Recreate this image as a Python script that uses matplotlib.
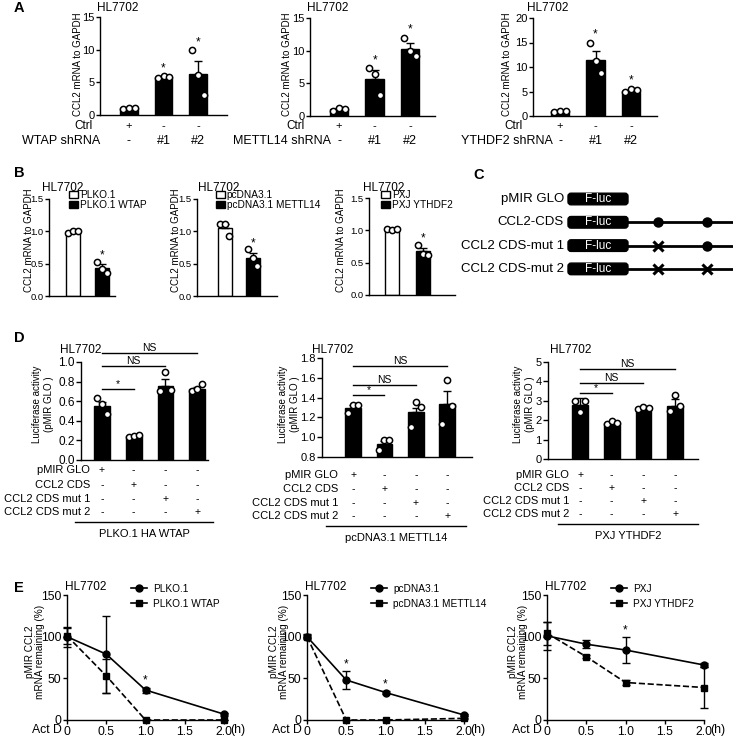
import numpy as np
import matplotlib
matplotlib.use("Agg")
import matplotlib.pyplot as plt
import matplotlib.transforms as mtransforms
from matplotlib.patches import Patch, FancyBboxPatch
from matplotlib.lines import Line2D

plt.rcParams["font.family"] = ["Liberation Sans", "DejaVu Sans"]
plt.rcParams["font.size"] = 7.5

# ---------------- data ----------------
# A: CCL2 mRNA after shRNA knockdown
a_groups = ["WTAP shRNA", "METTL14 shRNA", "YTHDF2 shRNA"]
a_ctrl_signs = ["+", "-", "-"]
a_sh_signs = ["-", "#1", "#2"]
a_means = [[1.0, 5.8, 6.3], [1.0, 5.7, 10.3], [1.0, 11.5, 5.2]]
a_sems = [[0.1, 0.1, 2.0], [0.2, 1.3, 0.8], [0.1, 1.8, 0.2]]
a_points = [
    [[0.9, 1.0, 1.0], [5.7, 5.9, 5.8], [9.9, 6.1, 3.0]],
    [[0.8, 1.3, 1.0], [7.3, 6.5, 3.2], [11.9, 10.0, 9.2]],
    [[0.9, 1.0, 1.0], [15.0, 11.2, 8.7], [5.0, 5.6, 5.3]],
]
a_stars = [[False, True, True], [False, True, True], [False, True, True]]
a_ymax = [15, 15, 20]

# B: CCL2 mRNA after overexpression
b_labels = [["PLKO.1", "PLKO.1 WTAP"], ["pcDNA3.1", "pcDNA3.1 METTL14"], ["PXJ", "PXJ YTHDF2"]]
b_means = [[1.0, 0.43], [1.05, 0.59], [1.0, 0.68]]
b_sems = [[0.01, 0.06], [0.06, 0.08], [0.01, 0.05]]
b_points = [
    [[0.97, 1.01, 1.0], [0.53, 0.42, 0.35]],
    [[1.12, 1.12, 0.93], [0.72, 0.58, 0.47]],
    [[1.02, 1.01, 1.02], [0.78, 0.64, 0.62]],
]
b_stars = [[False, True], [False, True], [False, True]]

# C: reporter constructs
c_names = ["pMIR GLO", "CCL2-CDS", "CCL2 CDS-mut 1", "CCL2 CDS-mut 2"]
c_sites = [[], ["wt", "wt"], ["mut", "wt"], ["mut", "mut"]]

# D: luciferase activity
d_rows = ["pMIR GLO", "CCL2 CDS", "CCL2 CDS mut 1", "CCL2 CDS mut 2"]
d_signs = [["+", "-", "-", "-"], ["-", "+", "-", "-"], ["-", "-", "+", "-"], ["-", "-", "-", "+"]]
d_groups = ["PLKO.1 HA WTAP", "pcDNA3.1 METTL14", "PXJ YTHDF2"]
d_means = [[0.55, 0.25, 0.76, 0.72], [1.30, 0.93, 1.25, 1.34], [2.8, 1.85, 2.62, 2.75]]
d_sems = [[0.04, 0.01, 0.07, 0.03], [0.03, 0.03, 0.05, 0.13], [0.35, 0.05, 0.08, 0.35]]
d_points = [
    [[0.63, 0.57, 0.47], [0.23, 0.25, 0.26], [0.70, 0.90, 0.71], [0.70, 0.72, 0.78]],
    [[1.24, 1.33, 1.33], [0.87, 0.97, 0.97], [1.10, 1.36, 1.31], [1.13, 1.58, 1.32]],
    [[3.0, 2.4, 3.0], [1.82, 1.94, 1.86], [2.6, 2.7, 2.63], [2.49, 3.28, 2.71]],
]
d_sig = [
    [(0, 1, 0.72, "*"), (0, 2, 0.955, "NS"), (0, 3, 1.09, "NS")],
    [(0, 1, 1.43, "*"), (0, 2, 1.53, "NS"), (0, 3, 1.72, "NS")],
    [(0, 1, 3.4, "*"), (0, 2, 3.92, "NS"), (0, 3, 4.64, "NS")],
]
d_ylim = [(0.0, 1.0), (0.8, 1.8), (0.0, 5.0)]
d_yticks = [[0.0, 0.2, 0.4, 0.6, 0.8, 1.0], [0.8, 1.0, 1.2, 1.4, 1.6, 1.8], [0, 1, 2, 3, 4, 5]]

# E: mRNA decay after actinomycin D
e_time = [0, 0.5, 1.0, 2.0]
e_names = [["PLKO.1", "PLKO.1 WTAP"], ["pcDNA3.1", "pcDNA3.1 METTL14"], ["PXJ", "PXJ YTHDF2"]]
e_ctrl = [[100, 79, 36, 7], [100, 48, 33, 6], [101, 91, 84, 66]]
e_ctrl_err = [[12, 46, 3, 2], [3, 11, 2, 1], [17, 5, 16, 2]]
e_oe = [[101, 53, 0, 0], [100, 0, 0, 2], [104, 76, 45, 39]]
e_oe_err = [[10, 20, 0, 0], [2, 0, 0, 1], [14, 2, 3, 25]]
e_star_times = [[1.0], [0.5, 1.0], [1.0]]

# ---------------- figure ----------------
W, H = 733, 740
fig = plt.figure(figsize=(W / 100, H / 100), dpi=100)


def fx(x):
    return x / W


def fy(y):
    return 1 - y / H


def add_ax(left, top, right, bottom):
    return fig.add_axes([left / W, 1 - bottom / H, (right - left) / W, (bottom - top) / H])


def style(ax, tsize=8, tlen=3):
    ax.spines["top"].set_visible(False)
    ax.spines["right"].set_visible(False)
    ax.spines["left"].set_linewidth(1.0)
    ax.spines["bottom"].set_linewidth(1.0)
    ax.tick_params(length=tlen, width=1.0, labelsize=tsize, pad=1.0)


def figrow(ax):
    # x in data units, y in figure fraction
    return mtransforms.blended_transform_factory(ax.transData, fig.transFigure)


def bars(ax, means, sems, points, colors, stars, star_off, width=0.5):
    x = np.arange(len(means))
    ax.bar(x, means, width=width, color=colors, edgecolor="black", linewidth=1.0, zorder=2)
    ax.errorbar(x, means, yerr=[np.zeros(len(sems)), sems], fmt="none", ecolor="black",
                elinewidth=1.0, capsize=3, capthick=1.0, zorder=3)
    offs = np.array([-0.16, 0.0, 0.16])
    for i, pts in enumerate(points):
        ax.scatter(x[i] + offs, pts, s=20, facecolor="white", edgecolor="black",
                   linewidth=1.1, zorder=4, clip_on=False)
        if stars[i]:
            top = max(max(pts), means[i] + sems[i])
            ax.text(x[i], top + star_off, "*", ha="center", va="center", fontsize=8.5)


def letter(x, y, s):
    fig.text(fx(x), fy(y), s, fontsize=10.5, fontweight="bold", ha="left", va="center")


def title(x, y):
    fig.text(fx(x), fy(y), "HL7702", fontsize=8.5, ha="left", va="center")


def ylab(x, y, s, size=7, ls=1.2):
    fig.text(fx(x), fy(y), s, rotation=90, ha="center", va="center", fontsize=size,
             linespacing=ls)


# ---- panel A ----
a_rects = [(100, 17, 227, 115), (310, 18, 435, 116), (533, 18, 657, 116)]
a_xlims = [(-0.84, 2.84), (-0.82, 2.70), (-0.76, 2.73)]
a_ylab_x = [78, 287, 507]
a_title_x = [97, 307, 527]
a_ctrl_right = [93, 305, 523]
a_sh_right = [100, 331, 553]
letter(14, 8, "A")
for k in range(3):
    ax = add_ax(*a_rects[k])
    style(ax, tsize=8)
    bars(ax, a_means[k], a_sems[k], a_points[k], ["black"] * 3, a_stars[k],
         star_off=a_ymax[k] * 0.085, width=0.52)
    ax.set_xlim(*a_xlims[k])
    ax.set_ylim(0, a_ymax[k])
    ax.set_yticks(np.arange(0, a_ymax[k] + 1, 5))
    ax.set_xticks([])
    tr = figrow(ax)
    for i in range(3):
        ax.text(i, fy(126), a_ctrl_signs[i], transform=tr, ha="center", va="center", fontsize=8)
        ax.text(i, fy(141), a_sh_signs[i], transform=tr, ha="center", va="center", fontsize=9)
    fig.text(fx(a_ctrl_right[k]), fy(126), "Ctrl", ha="right", va="center", fontsize=8.5)
    fig.text(fx(a_sh_right[k]), fy(141), a_groups[k], ha="right", va="center", fontsize=9)
    ylab(a_ylab_x[k], 64, "CCL2 mRNA to GAPDH")
    title(a_title_x[k], 8)

# ---- panel B ----
b_rects = [(49, 199, 115, 296), (197, 199, 277, 296), (369, 198, 455, 295)]
b_xlims = [(-0.83, 1.45), (-1.0, 1.86), (-0.74, 2.03)]
b_ylab_x = [29, 176, 341]
b_title_x = [42, 198, 363]
b_leg_x = [69, 216, 381]
letter(14, 173, "B")
for k in range(3):
    ax = add_ax(*b_rects[k])
    style(ax, tsize=6.8)
    bars(ax, b_means[k], b_sems[k], b_points[k], ["white", "black"], b_stars[k],
         star_off=0.1, width=0.48)
    ax.set_xlim(*b_xlims[k])
    ax.set_ylim(0, 1.5)
    ax.set_yticks([0.0, 0.5, 1.0, 1.5])
    ax.set_yticklabels(["0.0", "0.5", "1.0", "1.5"])
    ax.set_xticks([])
    handles = [Patch(facecolor="white", edgecolor="black", linewidth=1.0),
               Patch(facecolor="black", edgecolor="black", linewidth=1.0)]
    ax.legend(handles, b_labels[k], loc="upper left", bbox_to_anchor=(fx(b_leg_x[k]), fy(190)),
              bbox_transform=fig.transFigure, frameon=False, fontsize=7.3, handlelength=0.9,
              handleheight=0.8, handletextpad=0.15, labelspacing=0.0, borderpad=0,
              borderaxespad=0)
    ylab(b_ylab_x[k], 240, "CCL2 mRNA to GAPDH")
    title(b_title_x[k], 188)

# ---- panel C ----
letter(473, 175, "C")
axc = add_ax(440, 170, 733, 285)
axc.set_xlim(440, 733)
axc.set_ylim(285, 170)
axc.axis("off")
for i, name in enumerate(c_names):
    y = 199 + i * 23.3
    axc.text(564, y, name, ha="right", va="center", fontsize=9.5)
    if c_sites[i]:
        axc.plot([626, 733], [y, y], color="black", lw=2, clip_on=False, zorder=1)
        for j, s in enumerate(c_sites[i]):
            sx = 658 + j * 49
            if s == "wt":
                axc.plot(sx, y, "o", color="black", ms=6.5, zorder=3)
            else:
                axc.plot(sx, y, "x", color="black", ms=7.5, mew=2.2, zorder=3)
    box = FancyBboxPatch((568, y - 5.8), 60, 11.6, boxstyle="round,pad=0,rounding_size=3",
                         fc="black", ec="black", zorder=2)
    axc.add_patch(box)
    axc.text(598, y, "F-luc", color="white", ha="center", va="center", fontsize=8.5, zorder=4)

# ---- panel D ----
d_rects = [(81, 362, 208, 460), (322, 358, 472, 457), (548, 362, 698, 459)]
d_xlims = [(-0.66, 3.34), (-0.99, 3.79), (-1.01, 3.72)]
d_tsize = [8.5, 8, 8]
d_ylab_x = [43, 289, 524]
d_title_x = [60, 312, 550]
d_row_y = [[470, 485, 499, 512], [475, 489, 503, 516], [475, 488, 501, 514]]
d_row_right = [90, 338, 569]
d_line = [(-0.85, 3.5, 522, 534), (-0.86, 3.61, 526, 538), (-0.69, 3.72, 524, 536)]
letter(14, 338, "D")
for k in range(3):
    ax = add_ax(*d_rects[k])
    style(ax, tsize=d_tsize[k], tlen=3.5)
    bars(ax, d_means[k], d_sems[k], d_points[k], ["black"] * 4, [False] * 4, 0, width=0.5)
    ax.set_xlim(*d_xlims[k])
    ax.set_ylim(*d_ylim[k])
    ax.set_yticks(d_yticks[k])
    if k < 2:
        ax.set_yticklabels(["%.1f" % v for v in d_yticks[k]])
    ax.set_xticks([])
    for i1, i2, yv, lab in d_sig[k]:
        ax.plot([i1, i2], [yv, yv], color="black", lw=1.0, clip_on=False)
        ax.text((i1 + i2) / 2, yv, lab, ha="center", va="bottom", fontsize=7.5)
    tr = figrow(ax)
    for r, row in enumerate(d_rows):
        ry = fy(d_row_y[k][r])
        fig.text(fx(d_row_right[k]), ry, row, ha="right", va="center", fontsize=8)
        for i in range(4):
            ax.text(i, ry, d_signs[r][i], transform=tr, ha="center", va="center", fontsize=7.5)
    x0, x1, ly, ty = d_line[k]
    ax.plot([x0, x1], [fy(ly), fy(ly)], transform=tr, color="black", lw=1.0, clip_on=False)
    ax.text((x0 + x1) / 2, fy(ty), d_groups[k], transform=tr, ha="center", va="center",
            fontsize=8)
    ylab(d_ylab_x[k], 404, "Luciferase activity\n(pMIR GLO )", size=7, ls=1.25)
    title(d_title_x[k], 350)

# ---- panel E ----
e_rects = [(67, 595, 224, 720), (307, 595, 464, 720), (547, 595, 704, 720)]
e_ylab_x = [35, 279, 518]
e_title_x = [65, 305, 545]
e_leg_x = [131, 371, 611]
letter(14, 588, "E")
for k in range(3):
    ax = add_ax(*e_rects[k])
    style(ax, tsize=8.8)
    ax.errorbar(e_time, e_ctrl[k], yerr=e_ctrl_err[k], fmt="-o", color="black", ms=5,
                lw=1.2, elinewidth=1.0, capsize=3, capthick=1.0, clip_on=False,
                label=e_names[k][0], zorder=3)
    ax.errorbar(e_time, e_oe[k], yerr=e_oe_err[k], fmt="--s", color="black", ms=5,
                lw=1.2, elinewidth=1.0, capsize=3, capthick=1.0, clip_on=False,
                label=e_names[k][1], zorder=3)
    for t in e_star_times[k]:
        i = e_time.index(t)
        top = max(e_ctrl[k][i] + e_ctrl_err[k][i], e_oe[k][i] + e_oe_err[k][i])
        ax.text(t, top + 8, "*", ha="center", va="center", fontsize=8.5)
    ax.set_xlim(0, 2.0)
    ax.set_ylim(0, 150)
    ax.set_yticks([0, 50, 100, 150])
    ax.set_xticks([0, 0.5, 1.0, 1.5, 2.0])
    ax.set_xticklabels(["0", "0.5", "1.0", "1.5", "2.0"])
    ax.text(-0.035, -0.035, "Act D", transform=ax.transAxes, ha="right", va="top", fontsize=8.8)
    ax.text(1.04, -0.035, "(h)", transform=ax.transAxes, ha="left", va="top", fontsize=8.8)
    handles = [Line2D([], [], color="black", marker="o", ms=5, lw=1.2),
               Line2D([], [], color="black", marker="s", ms=5, lw=1.2)]
    ax.legend(handles, e_names[k], loc="upper left", bbox_to_anchor=(fx(e_leg_x[k]), fy(584)),
              bbox_transform=fig.transFigure, frameon=False, fontsize=7.3, handlelength=1.6,
              handletextpad=0.6, labelspacing=0.45, borderpad=0, borderaxespad=0)
    ylab(e_ylab_x[k], 652, "pMIR CCL2\nmRNA remaining (%)", size=7.2, ls=1.1)
    title(e_title_x[k], 587)

fig.savefig("out.png", dpi=100)
